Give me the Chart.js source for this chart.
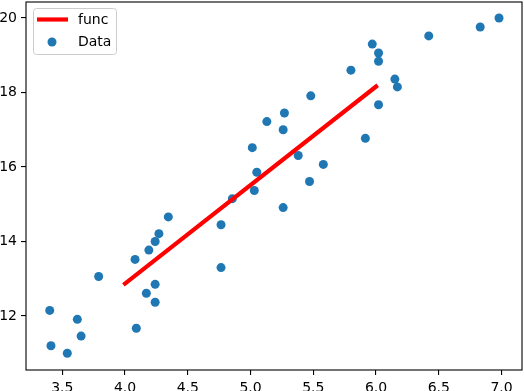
<!DOCTYPE html>
<html lang="en">
<head>
    <meta charset="UTF-8">
    <title>func vs Data</title>
    <script src="https://cdn.jsdelivr.net/npm/chart.js"></script>
    <style>
        body { margin: 0; background: #fff; }
        #wrap { width: 524px; height: 391px; position: relative; }
    </style>
</head>
<body>
    <div id="wrap"><canvas id="fitChart"></canvas></div>

    <script>
        // Scatter points
        const dataX = [3.40, 3.41, 3.54, 3.62, 3.65, 3.79, 4.08, 4.09, 4.17, 4.19,
                       4.24, 4.24, 4.24, 4.27, 4.345, 4.765, 4.765, 4.855, 5.014, 5.05,
                       5.03, 5.26, 5.13, 5.27, 5.26, 5.48, 5.38, 5.58, 5.47, 5.915,
                       5.80, 5.97, 6.02, 6.02, 6.02, 6.15, 6.17, 6.42, 6.83, 6.98];
        const dataY = [12.15, 11.20, 11.00, 11.91, 11.46, 13.06, 13.52, 11.67, 12.61, 13.77,
                       14.00, 12.85, 12.37, 14.21, 14.66, 14.45, 13.30, 15.15, 16.52, 15.86,
                       15.37, 14.91, 17.22, 17.45, 17.00, 17.91, 16.31, 16.07, 15.61, 16.77,
                       18.60, 19.30, 19.06, 18.84, 17.67, 18.36, 18.15, 19.52, 19.76, 20.00];

        // Fitted line
        const funcX = [4.0, 6.0];
        const funcY = [12.87, 18.16];

        // Axis ticks
        const xTicks = [3.5, 4.0, 4.5, 5.0, 5.5, 6.0, 6.5, 7.0];
        const yTicks = [12, 14, 16, 18, 20];

        const FONT = "'DejaVu Sans', sans-serif";

        // Box around the whole plot area (all four spines)
        const frame = {
            id: 'frame',
            afterDraw(chart) {
                const { ctx, chartArea: a } = chart;
                ctx.save();
                ctx.strokeStyle = '#000';
                ctx.lineWidth = 1.1;
                ctx.strokeRect(a.left, a.top, a.right - a.left, a.bottom - a.top);
                ctx.restore();
            }
        };

        // Legend box in the upper left corner, drawn from the datasets
        const cornerLegend = {
            id: 'cornerLegend',
            afterDraw(chart) {
                const { ctx, chartArea: a } = chart;
                const x0 = a.left + 7, y0 = a.top + 6;
                const w = 83, h = 46;
                ctx.save();
                ctx.fillStyle = 'rgba(255,255,255,0.8)';
                ctx.strokeStyle = '#cccccc';
                ctx.lineWidth = 1;
                ctx.beginPath();
                ctx.roundRect(x0 + 0.5, y0 + 0.5, w, h, 3);
                ctx.fill();
                ctx.stroke();

                const ds = chart.data.datasets;
                ctx.font = '14px ' + FONT;
                ctx.textBaseline = 'middle';

                // line handle
                ctx.strokeStyle = ds[0].borderColor;
                ctx.lineWidth = ds[0].borderWidth;
                ctx.beginPath();
                ctx.moveTo(x0 + 4, y0 + 11.5);
                ctx.lineTo(x0 + 35, y0 + 11.5);
                ctx.stroke();
                ctx.fillStyle = '#000';
                ctx.fillText(ds[0].label, x0 + 45, y0 + 12);

                // dot handle
                ctx.fillStyle = ds[1].backgroundColor;
                ctx.beginPath();
                ctx.arc(x0 + 19, y0 + 34, ds[1].pointRadius, 0, Math.PI * 2);
                ctx.fill();
                ctx.fillStyle = '#000';
                ctx.fillText(ds[1].label, x0 + 45, y0 + 34);
                ctx.restore();
            }
        };

        const ctx = document.getElementById('fitChart').getContext('2d');
        new Chart(ctx, {
            type: 'scatter',
            data: {
                datasets: [
                    {
                        type: 'line',
                        label: 'func',
                        data: funcX.map((x, i) => ({ x: x, y: funcY[i] })),
                        borderColor: '#ff0000',
                        borderWidth: 4.2,
                        borderCapStyle: 'square',
                        pointRadius: 0,
                        fill: false,
                        tension: 0
                    },
                    {
                        label: 'Data',
                        data: dataX.map((x, i) => ({ x: x, y: dataY[i] })),
                        backgroundColor: '#1f77b4',
                        borderWidth: 0,
                        pointRadius: 4.5,
                        pointHoverRadius: 4.5
                    }
                ]
            },
            options: {
                responsive: true,
                maintainAspectRatio: false,
                animation: false,
                layout: { autoPadding: false, padding: { top: 2, right: 2, left: 0, bottom: 0 } },
                plugins: {
                    legend: { display: false },
                    tooltip: { enabled: false }
                },
                scales: {
                    x: {
                        type: 'linear',
                        min: 3.211,
                        max: 7.163,
                        afterBuildTicks: s => { s.ticks = xTicks.map(v => ({ value: v })); },
                        afterFit: s => {
                            s.height = 21;
                            s.paddingLeft = 0; s.paddingRight = 0;
                            s.paddingTop = 0; s.paddingBottom = 0;
                        },
                        border: { display: false },
                        grid: { drawOnChartArea: false, drawTicks: true, tickLength: 5, tickColor: '#000', lineWidth: 1.1 },
                        ticks: {
                            color: '#000',
                            padding: 5,
                            maxRotation: 0,
                            font: { family: FONT, size: 14 },
                            callback: v => v.toFixed(1)
                        }
                    },
                    y: {
                        type: 'linear',
                        min: 10.55,
                        max: 20.43,
                        afterBuildTicks: s => { s.ticks = yTicks.map(v => ({ value: v })); },
                        afterFit: s => {
                            s.width = 26;
                            s.paddingLeft = 0; s.paddingRight = 0;
                            s.paddingTop = 0; s.paddingBottom = 0;
                        },
                        border: { display: false },
                        grid: { drawOnChartArea: false, drawTicks: true, tickLength: 5, tickColor: '#000', lineWidth: 1.1 },
                        ticks: {
                            color: '#000',
                            padding: 4,
                            font: { family: FONT, size: 14 },
                            callback: v => String(v)
                        }
                    }
                }
            },
            plugins: [frame, cornerLegend]
        });
    </script>
</body>
</html>
